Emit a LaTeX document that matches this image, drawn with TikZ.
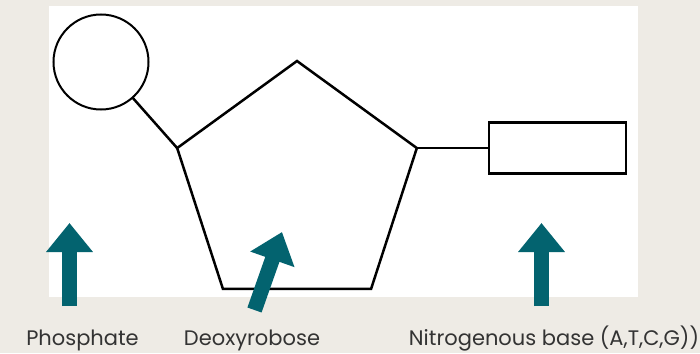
\documentclass[tikz,border=0pt]{standalone}
\usepackage{fontspec}
\setmainfont{Poppins}
\usetikzlibrary{shapes.geometric,arrows.meta}
\definecolor{bgbeige}{HTML}{EEEBE5}
\definecolor{tealarrow}{HTML}{03636F}
\definecolor{labelgray}{HTML}{333333}
\tikzset{
  part/.style={draw=black, fill=white, line width=2.5pt, inner sep=0pt, outer sep=0pt},
  link/.style={draw=black, line width=2.5pt},
  pointer/.style={draw=tealarrow, line width=15pt, -{Triangle[width=45pt,length=29pt]}},
  caption/.style={text=labelgray, font=\fontsize{21}{24}\selectfont, anchor=base, inner sep=0pt}
}
\begin{document}
\begin{tikzpicture}[x=1pt,y=-1pt]
\useasboundingbox (0,0) rectangle (700,353);
\fill[bgbeige] (0,0) rectangle (700,353);
\fill[white] (49,6) rectangle (638,297);
% parts
\node[part, circle, minimum size=95pt, line width=2pt] (phos) at (101,62) {};
\node[part, regular polygon, regular polygon sides=5, minimum size=252pt, fill=none] (sugar) at (297,187) {};
\node[part, rectangle, minimum width=137pt, minimum height=51pt, line width=2.8pt] (base) at (557.5,148) {};
% connectors
\draw[link] (phos) -- (sugar.corner 2);
\draw[link] (sugar.corner 5) -- (sugar.corner 5 -| base.west);
% arrows
\coordinate (a1s) at (69.5,306);
\coordinate (a1e) at (69.5,223);
\coordinate (a2s) at (254.5,310);
\coordinate (a2e) at (282,232);
\coordinate (a3s) at (541.5,306);
\coordinate (a3e) at (541.5,223);
\draw[pointer] (a1s) -- (a1e);
\draw[pointer] (a2s) -- (a2e);
\draw[pointer] (a3s) -- (a3e);
% labels
\node[caption] (l1) at (82.5,345) {Phosphate};
\node[caption] (l2) at (252,345) {Deoxyrobose};
\node[caption] (l3) at (554,345) {Nitrogenous base (A,T,C,G))};
\end{tikzpicture}
\end{document}
